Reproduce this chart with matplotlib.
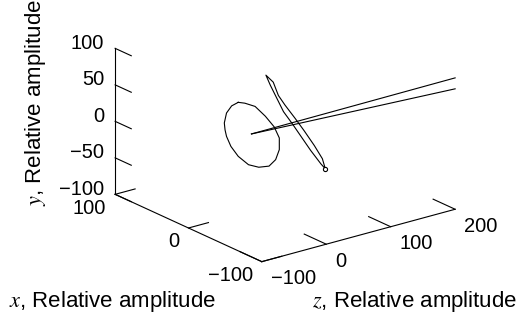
import matplotlib
matplotlib.use("Agg")
import matplotlib.pyplot as plt
import numpy as np
from mpl_toolkits.mplot3d import proj3d

plt.rcParams['font.family'] = ['Liberation Sans', 'DejaVu Sans']
plt.rcParams['mathtext.fontset'] = 'stix'

# axis ranges and ticks (x, y, z as labelled in the figure)
x_lim = (-100, 100)
y_lim = (-100, 100)
z_lim = (-100, 200)
x_ticks = [-100, 0, 100]
y_ticks = [-100, -50, 0, 50, 100]
z_ticks = [-100, 0, 100, 200]

# roughly circular loop around the origin, in the z = 0 plane
loop_x = [20, 11, -3, -17, -29, -36, -36, -31, -22, -8, 6, 20, 30, 36, 38, 39, 36, 29, 20]
loop_y = [39, 42, 44, 37, 28, 16, 0, -16, -29, -37, -40, -35, -26, -15, -7, 2, 17, 30, 39]
loop_z = 0

# thin, tilted ellipse
ell_x = [-46, -40, -26, -12, -1, 11, 20, 29, 35, 25, 18, 9, -5, -17, -31, -42, -46]
ell_y = [-36, -32, -20, -6, 5, 16, 30, 44, 55, 50, 35, 26, 14, 3, -11, -24, -36]
ell_z = 60

# two straight traces leaving the origin
ray_start = (2, 4, 0)
ray_end_x = [-100, -100]
ray_end_y = [80, 65]
ray_end_z = [200, 200]

W, H = 528, 320
fig = plt.figure(figsize=(W / 100, H / 100), dpi=100)
ax = fig.add_axes([0.087, -0.15, 480 / W, 480 / H], projection='3d',
                  proj_type='ortho')
ax.set_axis_off()
ax.view_init(elev=20.65, azim=-127.54)
# matplotlib axes: X = z, Y = x, Z = y (vertical)
aspect = (243.8, 240.7, 156.0)
ax.set_box_aspect(aspect)
ax.set_xlim(*z_lim)
ax.set_ylim(*x_lim)
ax.set_zlim(*y_lim)


def seg(p, q, lw=0.8):
    ax.plot([p[2], q[2]], [p[0], q[0]], [p[1], q[1]], color='black', lw=lw,
            clip_on=False)


# frame: three axis lines with inward ticks
seg((x_lim[1], y_lim[0], z_lim[0]), (x_lim[1], y_lim[1], z_lim[0]))
seg((x_lim[0], y_lim[0], z_lim[0]), (x_lim[1], y_lim[0], z_lim[0]))
seg((x_lim[0], y_lim[0], z_lim[0]), (x_lim[0], y_lim[0], z_lim[1]))
for t in y_ticks:
    seg((x_lim[1], t, z_lim[0]), (x_lim[1] - 22, t, z_lim[0]))
for t in x_ticks:
    seg((t, y_lim[0], z_lim[0]), (t, y_lim[0], z_lim[0] + 31))
for t in z_ticks:
    seg((x_lim[0], y_lim[0], t), (x_lim[0] + 30, y_lim[0], t))

# data curves
ax.plot(np.full(len(loop_x), loop_z), loop_x, loop_y, color='black', lw=0.8,
        clip_on=False)
ax.plot(np.full(len(ell_x), ell_z), ell_x, ell_y, color='black', lw=0.8,
        clip_on=False)
ax.plot([ell_z], [ell_x[0]], [ell_y[0]], 'o', ms=3, mfc='white', mec='black',
        mew=0.8, clip_on=False)
for ex, ey, ez in zip(ray_end_x, ray_end_y, ray_end_z):
    ax.plot([ray_start[2], ez], [ray_start[0], ex], [ray_start[1], ey],
            color='black', lw=0.8, clip_on=False)

# axis titles
fig.text(112 / W, (H - 306.7) / H, '$x$, Relative amplitude', ha='center',
         va='baseline', fontsize=16)
fig.text(415 / W, (H - 306.7) / H, '$z$, Relative amplitude', ha='center',
         va='baseline', fontsize=16)
fig.text(36 / W, (H - 102.5) / H, '$y$, Relative amplitude', ha='center',
         va='center', rotation=90, fontsize=16)

# fit the box corners onto the place they take in the original figure
fig.canvas.draw()


def px(x, y, z):
    X2, Y2, _ = proj3d.proj_transform(z, x, y, ax.get_proj())
    return ax.transData.transform((X2, Y2))


corners = [(x_lim[0], y_lim[0], z_lim[0]), (x_lim[0], y_lim[0], z_lim[1]),
           (x_lim[1], y_lim[0], z_lim[0]), (x_lim[1], y_lim[1], z_lim[0])]
targets = np.array([(261.7, 261.7), (455, 209.3), (115, 194.3), (115.5, 48.3)])
targets[:, 1] = H - targets[:, 1]
cur = np.array([px(*c) for c in corners])
c0 = ax.transData.transform((0, 0))
s = (np.linalg.norm(np.diff(targets, axis=0), axis=1).sum()
     / np.linalg.norm(np.diff(cur, axis=0), axis=1).sum())
ax.set_box_aspect(aspect, zoom=s)
shift = (targets - (c0 + s * (cur - c0))).mean(axis=0)
pos = ax.get_position()
ax.set_position([pos.x0 + shift[0] / W, pos.y0 + shift[1] / H, pos.width, pos.height])
fig.canvas.draw()


# tick labels, placed at projected points next to each tick
def tick_label(x, y, z, t, ha):
    p = px(x, y, z)
    fig.text(p[0] / W, p[1] / H, '{:g}'.format(t).replace('-', '\u2212'),
             ha=ha, va='center', fontsize=14.5)


for t in y_ticks:
    tick_label(x_lim[1] + 15, t, z_lim[0], t, 'right')
for t in x_ticks:
    tick_label(t, y_lim[0] - 15.8, z_lim[0] - 13.9, t, 'right')
for t in z_ticks:
    tick_label(x_lim[0] - 12.5, y_lim[0] - 17.5, t, t, 'left')

fig.savefig('out.png', dpi=100)
